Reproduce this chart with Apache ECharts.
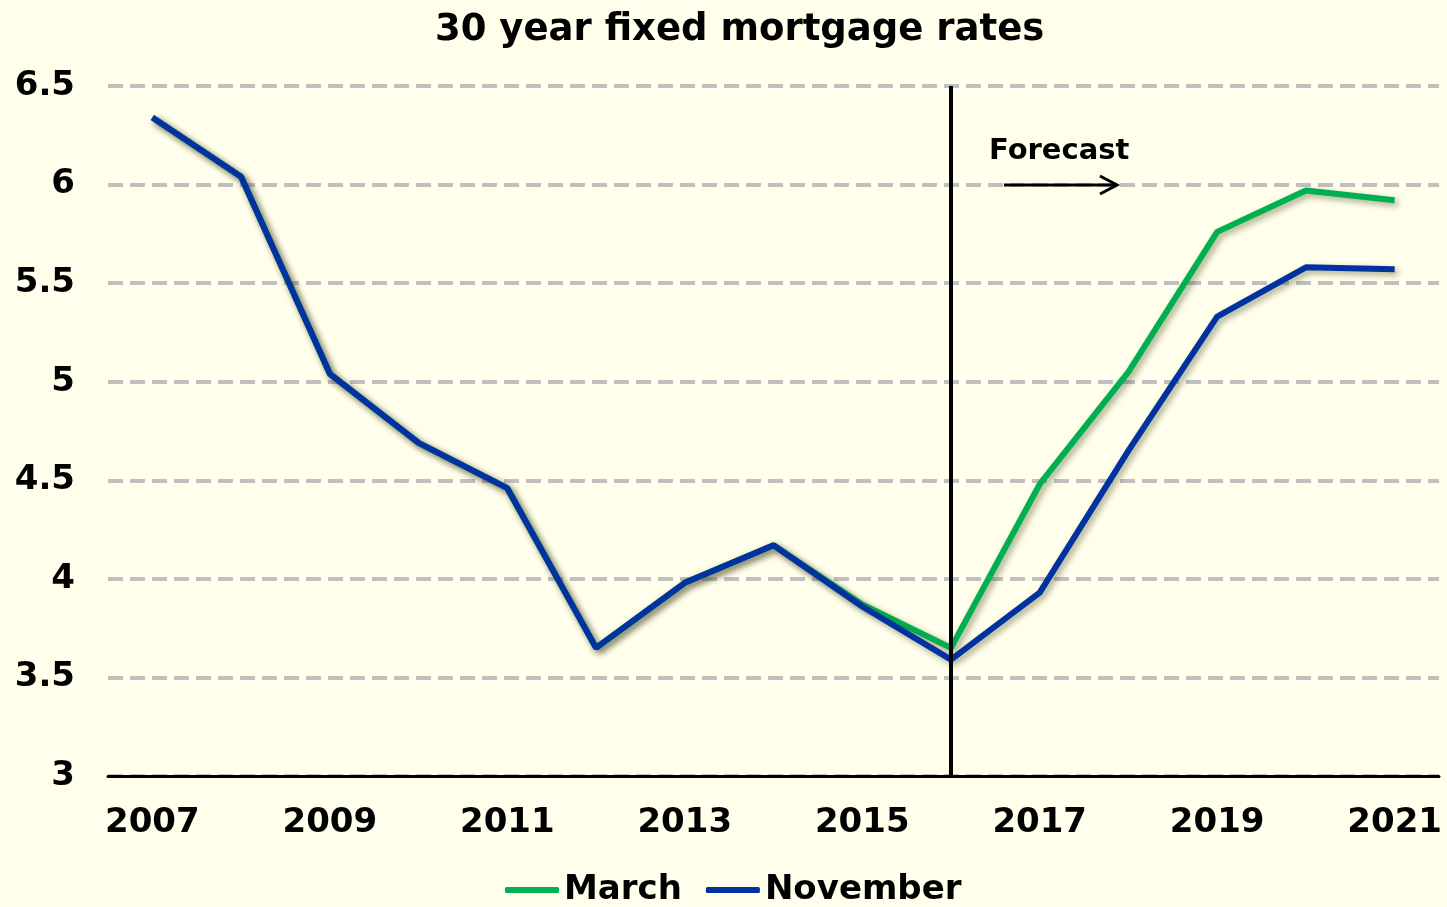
<!DOCTYPE html>
<html>
<head>
<meta charset="utf-8">
<script src="https://cdn.jsdelivr.net/npm/echarts@6/dist/echarts.min.js"></script>
<style>
  html, body { margin: 0; padding: 0; background: #ffffeb; }
  #chart { width: 1447px; height: 907px; }
</style>
</head>
<body>
<div id="chart"></div>
<script>
var years = ['2007','2008','2009','2010','2011','2012','2013','2014','2015','2016','2017','2018','2019','2020','2021'];
var march = [6.34, 6.04, 5.04, 4.69, 4.46, 3.65, 3.98, 4.17, 3.87, 3.65, 4.48, 5.05, 5.76, 5.97, 5.92];
var november = [6.34, 6.04, 5.04, 4.69, 4.46, 3.65, 3.98, 4.17, 3.86, 3.59, 3.93, 4.65, 5.33, 5.58, 5.57];
var forecastYear = '2016';

var font = 'DejaVu Sans';
var chart = echarts.init(document.getElementById('chart'));

// shared line look (with the soft drop shadow)
function lineSeries(name, data, color) {
    return {
        name: name,
        type: 'line',
        data: data,
        symbol: 'none',
        lineStyle: {
            color: color,
            width: 6,
            shadowColor: 'rgba(60,60,20,0.45)',
            shadowBlur: 6,
            shadowOffsetX: 3,
            shadowOffsetY: 3
        },
        itemStyle: { color: color }
    };
}

var green = lineSeries('March', march, '#00b050');
var blue = lineSeries('November', november, '#0033a0');
blue.markLine = {
    silent: true,
    symbol: 'none',
    label: { show: false },
    lineStyle: { color: '#000', width: 4, type: 'solid', shadowBlur: 0, shadowColor: 'transparent' },
    data: [{ xAxis: forecastYear }]
};

var option = {
    backgroundColor: '#ffffeb',
    animation: false,
    title: {
        text: '30 year fixed mortgage rates',
        left: 430,
        top: 7,
        textStyle: { fontFamily: font, fontWeight: 'bold', fontSize: 37, color: '#000' }
    },
    legend: {
        bottom: -5,
        left: 500,
        icon: 'roundRect',
        itemWidth: 54,
        itemHeight: 6,
        itemGap: 24,
        textStyle: { fontFamily: font, fontWeight: 'bold', fontSize: 34, color: '#000', padding: [0, 0, 0, 0] },
        data: ['March', 'November']
    },
    grid: { left: 108, right: 8, top: 86, bottom: 131 },
    xAxis: {
        type: 'category',
        data: years,
        boundaryGap: true,
        axisLine: { lineStyle: { color: '#000', width: 3 } },
        axisTick: { show: false },
        axisLabel: {
            interval: 1,
            margin: 30,
            fontFamily: font, fontWeight: 'bold', fontSize: 34, color: '#000'
        }
    },
    yAxis: {
        type: 'value',
        min: 3,
        max: 6.5,
        interval: 0.5,
        axisLine: { show: false },
        axisTick: { show: false },
        axisLabel: { margin: 33, fontFamily: font, fontWeight: 'bold', fontSize: 34, color: '#000' },
        splitLine: { lineStyle: { color: '#c0c0c0', width: 4, type: [15, 7] } }
    },
    graphic: [
        {
            type: 'text',
            left: 989,
            top: 137,
            z: 100,
            style: { text: 'Forecast', fontFamily: font, fontWeight: 'bold', fontSize: 29, fill: '#000' }
        },
        {
            type: 'polyline',
            z: 100,
            shape: { points: [[1004, 185], [1117, 185]] },
            style: { stroke: '#000', lineWidth: 3, fill: null }
        },
        {
            type: 'polyline',
            z: 100,
            shape: { points: [[1100, 176], [1117, 185], [1100, 194]] },
            style: { stroke: '#000', lineWidth: 3, fill: null }
        }
    ],
    series: [green, blue]
};

chart.setOption(option);
</script>
</body>
</html>
